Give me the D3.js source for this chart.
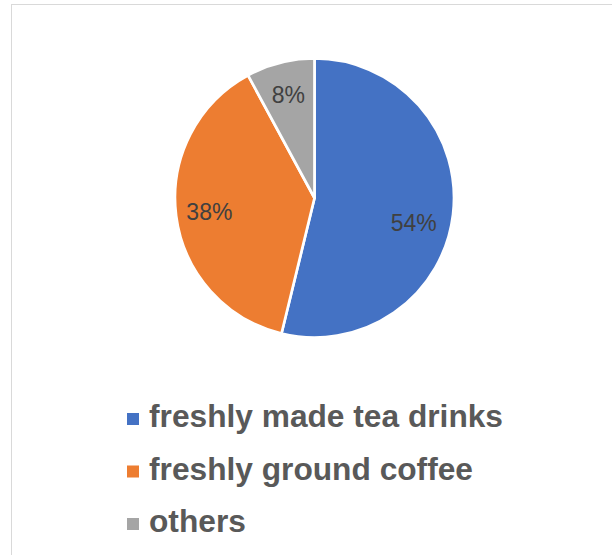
<!DOCTYPE html>
<html>
<head>
<meta charset="utf-8">
<script src="https://cdn.jsdelivr.net/npm/d3@7"></script>
<style>
  body { margin: 0; background: #fff; }
  svg { display: block; font-family: "Liberation Sans", Arial, sans-serif; }
</style>
</head>
<body>
<div id="chart"></div>
<script>
// Share of each category
const categories = ["freshly made tea drinks", "freshly ground coffee", "others"];
const shares = [53.8, 38.3, 7.9];
const colors = ["#4472C4", "#ED7D31", "#A5A5A5"];

const width = 612, height = 555;

const svg = d3.select("#chart")
  .append("svg")
  .attr("width", width)
  .attr("height", height);

// chart area border (runs off the right and bottom of the picture)
svg.append("rect")
  .attr("x", 11.5)
  .attr("y", 4.5)
  .attr("width", 700)
  .attr("height", 700)
  .attr("fill", "#fff")
  .attr("stroke", "#d9d9d9")
  .attr("stroke-width", 1);

const cx = 314.5, cy = 198, radius = 139.5;

const data = categories.map((c, i) => ({ name: c, value: shares[i] }));

const color = d3.scaleOrdinal().domain(categories).range(colors);

const pie = d3.pie()
  .value(d => d.value)
  .sort(null);

const arc = d3.arc().innerRadius(0).outerRadius(radius);
const labelArc = d3.arc().innerRadius(radius * 0.76).outerRadius(radius * 0.76);

// Excel's "best fit" pushes the big slice's label a bit lower
const labelNudge = [[-6, 12], [0, 0], [0, 0]];

const total = d3.sum(shares);
const arcs = pie(data);

const g = svg.append("g").attr("transform", `translate(${cx},${cy})`);

g.selectAll("path")
  .data(arcs)
  .join("path")
  .attr("d", arc)
  .attr("fill", d => color(d.data.name))
  .attr("stroke", "#fff")
  .attr("stroke-width", 2.7)
  .attr("stroke-linejoin", "round");

g.selectAll("text.pct")
  .data(arcs)
  .join("text")
  .attr("class", "pct")
  .attr("transform", (d, i) => {
    const [x, y] = labelArc.centroid(d);
    return `translate(${x + labelNudge[i][0]},${y + labelNudge[i][1]})`;
  })
  .attr("text-anchor", "middle")
  .attr("dy", "0.35em")
  .attr("fill", "#404040")
  .style("font-size", "23px")
  .text(d => Math.round(d.data.value / total * 100) + "%");

// Legend
const legend = svg.append("g").attr("class", "legend");
const rowY = d3.scalePoint().domain(categories).range([427, 532]);

categories.forEach(c => {
  legend.append("rect")
    .attr("x", 127)
    .attr("y", rowY(c) - 14)
    .attr("width", 12)
    .attr("height", 12)
    .attr("fill", color(c));

  legend.append("text")
    .attr("x", 149)
    .attr("y", rowY(c))
    .attr("fill", "#595959")
    .style("font-size", "31.7px")
    .style("font-weight", "bold")
    .text(c);
});
</script>
</body>
</html>
